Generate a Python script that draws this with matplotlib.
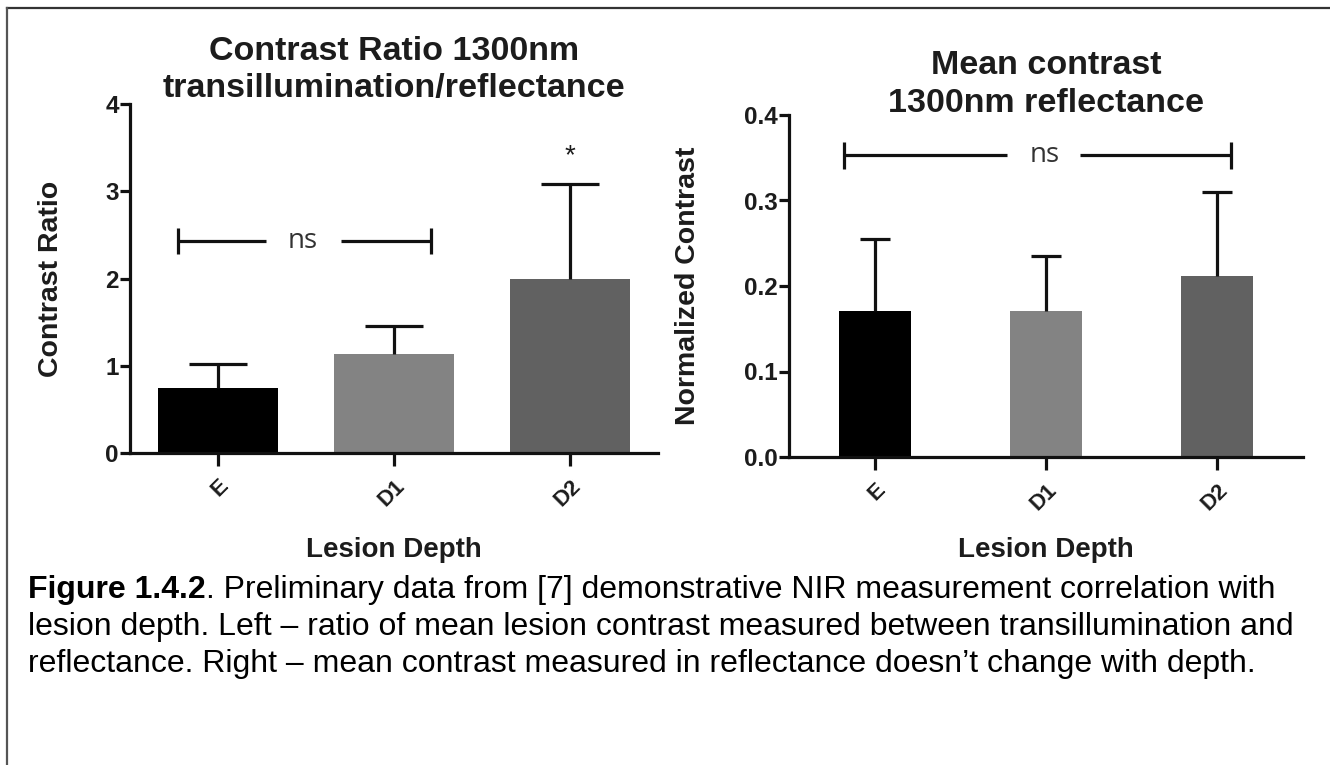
import matplotlib
matplotlib.use("Agg")
import matplotlib.pyplot as plt
from matplotlib.lines import Line2D

plt.rcParams['font.family'] = ['Liberation Sans', 'DejaVu Sans']

# --- data ---
categories = ['E', 'D1', 'D2']
ratio_mean = [0.75, 1.14, 2.00]
ratio_err = [0.27, 0.32, 1.08]
contrast_mean = [0.171, 0.171, 0.212]
contrast_err = [0.084, 0.064, 0.098]
bar_colors = ['#000000', '#838383', '#616161']

ratio_ticks = [0, 1, 2, 3, 4]
contrast_ticks = [0.0, 0.1, 0.2, 0.3, 0.4]

caption_bold = "Figure 1.4.2"
caption_lines = [
    ". Preliminary data from [7] demonstrative NIR measurement correlation with",
    "lesion depth. Left \u2013 ratio of mean lesion contrast measured between transillumination and",
    "reflectance. Right \u2013 mean contrast measured in reflectance doesn\u2019t change with depth.",
]

W, H = 1330, 765
fig = plt.figure(figsize=(W / 100, H / 100), dpi=100)
fig.patch.set_facecolor('white')

TXT = '#1c1c1c'


def style_axes(ax):
    for s in ['top', 'right']:
        ax.spines[s].set_visible(False)
    for s in ['left', 'bottom']:
        ax.spines[s].set_linewidth(2.3)
        ax.spines[s].set_color('#111111')
    ax.tick_params(axis='both', width=2.3, length=7, color='#111111',
                   labelcolor=TXT)
    ax.tick_params(axis='x', length=9, pad=7)
    ax.tick_params(axis='y', pad=1)
    ax.set_xlim(-0.5, 2.5)
    ax.set_xticks(range(len(categories)))
    ax.set_xticklabels(categories, rotation=45, ha='right',
                       rotation_mode='anchor', fontsize=16, fontweight='bold')
    for lab in ax.get_yticklabels():
        lab.set_fontweight('bold')
        lab.set_fontsize(17.5)


def upper_err(ax, means, errs, capsize):
    # only the upper half of the error bar, as in the original
    _, caps, _ = ax.errorbar(range(len(means)), means,
                             yerr=[[0] * len(errs), errs], fmt='none',
                             ecolor='#111111', elinewidth=2.3,
                             capsize=capsize, capthick=2.3, zorder=3)
    caps[0].set_visible(False)


def bracket(ax, x0, x1, gap0, gap1, y, h, xt):
    kw = dict(color='#111111', lw=2.3, solid_capstyle='butt')
    ax.plot([x0, gap0], [y, y], **kw)
    ax.plot([gap1, x1], [y, y], **kw)
    ax.plot([x0, x0], [y - h, y + h], **kw)
    ax.plot([x1, x1], [y - h, y + h], **kw)
    ax.text(xt, y, 'ns', ha='center', va='center', fontsize=20,
            family='Open Sans', color='#333333')


# ---------- left panel ----------
ax1 = fig.add_axes([130 / W, 1 - 453 / H, 528 / W, 349 / H])
ax1.bar(range(3), ratio_mean, width=0.68, color=bar_colors, zorder=2)
upper_err(ax1, ratio_mean, ratio_err, 21)
ax1.set_ylim(0, 4)
ax1.set_yticks(ratio_ticks)
ax1.set_yticklabels([str(t) for t in ratio_ticks])
style_axes(ax1)
bracket(ax1, -0.23, 1.21, 0.27, 0.70, 2.43, 0.15, 0.48)
ax1.text(2, 3.40, '*', ha='center', va='center', fontsize=20, color=TXT)
ax1.set_ylabel('Contrast Ratio', fontsize=20.5, fontweight='bold', color=TXT)
ax1.yaxis.set_label_coords(-0.125, 0.5)
ax1.text(0.5, -0.278, 'Lesion Depth', transform=ax1.transAxes, ha='center',
         va='center', fontsize=20, fontweight='bold', color=TXT)

# ---------- right panel ----------
ax2 = fig.add_axes([789 / W, 1 - 457 / H, 514 / W, 342 / H])
ax2.bar(range(3), contrast_mean, width=0.42, color=bar_colors, zorder=2)
upper_err(ax2, contrast_mean, contrast_err, 11)
ax2.set_ylim(0, 0.4)
ax2.set_yticks(contrast_ticks)
ax2.set_yticklabels([f'{t:.1f}' for t in contrast_ticks])
style_axes(ax2)
bracket(ax2, -0.18, 2.08, 0.77, 1.20, 0.353, 0.016, 0.99)
ax2.set_ylabel('Normalized Contrast', fontsize=20.5, fontweight='bold',
               color=TXT)
ax2.yaxis.set_label_coords(-0.171, 0.5)
ax2.text(0.5, -0.272, 'Lesion Depth', transform=ax2.transAxes, ha='center',
         va='center', fontsize=20, fontweight='bold', color=TXT)

# titles
for cx, lines, ys in [(394, ['Contrast Ratio 1300nm', 'transillumination/reflectance'], [52, 88]),
                      (1046, ['Mean contrast', '1300nm reflectance'], [66, 103])]:
    for txt, yy in zip(lines, ys):
        fig.text(cx / W, 1 - yy / H, txt, ha='center', va='center',
                 fontsize=24.5, fontweight='bold', color=TXT)

# caption
baselines = [598, 635, 672]
cap_size = 23
t0 = fig.text(28 / W, 1 - baselines[0] / H, caption_bold, ha='left',
              va='baseline', fontsize=cap_size, fontweight='bold',
              color='black')
fig.add_artist(matplotlib.text.Annotation(
    caption_lines[0], xy=(1, 1 - baselines[0] / H),
    xycoords=(t0, 'figure fraction'), ha='left', va='baseline',
    fontsize=cap_size, color='black'))
for txt, yy in zip(caption_lines[1:], baselines[1:]):
    fig.text(28 / W, 1 - yy / H, txt, ha='left', va='baseline',
             fontsize=cap_size, color='black')

# page frame (top and left edges only)
fig.add_artist(Line2D([7 / W, 1], [1 - 8 / H, 1 - 8 / H], color='#333333',
                      lw=1.6, transform=fig.transFigure))
fig.add_artist(Line2D([7 / W, 7 / W], [0, 1 - 8 / H], color='#555555',
                      lw=1.6, transform=fig.transFigure))

fig.savefig('out.png', dpi=100, facecolor='white')
